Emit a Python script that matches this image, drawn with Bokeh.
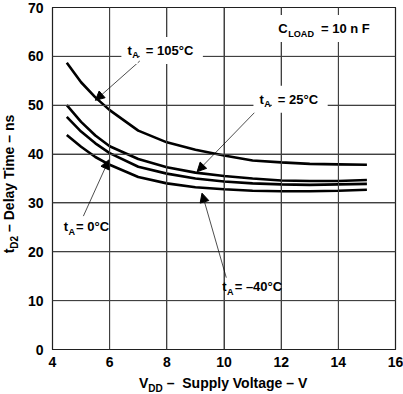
from bokeh.plotting import figure
from bokeh.models import Range1d, FixedTicker, Label, Arrow, NormalHead, Div
from bokeh.layouts import row, column
from bokeh.embed import file_html
from bokeh.resources import INLINE

# Supply voltage (V)
vdd = [4.5, 5, 5.5, 6, 7, 8, 9, 10, 11, 12, 13, 14, 15]
# Delay time (ns) per ambient temperature
t_105 = [58.7, 54.7, 51.6, 49.0, 44.8, 42.4, 40.9, 39.7, 38.7, 38.3, 38.0, 37.9, 37.8]
t_25 = [50.0, 46.6, 43.8, 41.6, 39.0, 37.3, 36.2, 35.5, 35.0, 34.6, 34.5, 34.5, 34.7]
t_0 = [47.6, 44.6, 42.2, 40.2, 37.4, 36.0, 35.0, 34.4, 34.0, 33.8, 33.7, 33.8, 33.9]
t_m40 = [43.9, 41.5, 39.4, 37.8, 35.3, 34.0, 33.2, 32.8, 32.5, 32.4, 32.4, 32.5, 32.7]

x_ticks = [4, 6, 8, 10, 12, 14, 16]
y_ticks = [0, 10, 20, 30, 40, 50, 60, 70]

# annotation texts: (prefix, subscript, rest, label x, label y, arrow start, arrow tip, white box)
annotations = [
    ("t", "A", " = 105°C", 6.62, 61.2, (7.14, 59.5), (5.50, 51.0), True),
    ("t", "A", " = 25°C", 11.24, 51.2, (11.30, 49.9), (9.06, 36.4), True),
    ("t", "A", " = 0°C", 4.39, 25.1, (5.08, 27.3), (5.97, 38.8), False),
    ("t", "A", " = –40°C", 9.94, 12.8, (10.08, 14.7), (9.23, 32.0), False),
    ("C", "LOAD", " = 10 n F", 11.9, 65.7, None, None, True),
]

FONT = "Liberation Sans"
FS = 13
GRID = "#404040"
PAD = 6

p = figure(width=379, height=373, output_backend="svg", toolbar_location=None,
           x_range=Range1d(4, 16), y_range=Range1d(0, 70),
           frame_width=343, frame_height=342,
           min_border_left=28, min_border_right=8, min_border_top=7, min_border_bottom=24)
p.background_fill_color = "white"
p.border_fill_color = "white"
p.outline_line_color = "black"
p.outline_line_width = 1.2

for ax in (p.xaxis[0], p.yaxis[0]):
    ax.axis_line_color = None
    ax.major_tick_line_color = None
    ax.minor_tick_line_color = None
    ax.major_tick_out = 0
    ax.major_tick_in = 0
    ax.minor_tick_out = 0
    ax.minor_tick_in = 0
    ax.major_label_text_font = FONT
    ax.major_label_text_font_style = "bold"
    ax.major_label_text_font_size = "14px"
    ax.major_label_text_color = "black"
p.xaxis[0].ticker = FixedTicker(ticks=x_ticks)
p.yaxis[0].ticker = FixedTicker(ticks=y_ticks)
p.xaxis[0].major_label_standoff = 7
p.yaxis[0].major_label_standoff = 9
for g in (p.xgrid[0], p.ygrid[0]):
    g.grid_line_color = GRID
    g.grid_line_alpha = 1.0
    g.grid_line_width = 1
    g.level = "glyph"

# grid lines drawn from the tick lists as well (through the data scales)
p.segment(x0=x_ticks, y0=[y_ticks[0]] * len(x_ticks), x1=x_ticks, y1=[y_ticks[-1]] * len(x_ticks),
          line_color=GRID, line_width=1)
p.segment(x0=[x_ticks[0]] * len(y_ticks), y0=y_ticks, x1=[x_ticks[-1]] * len(y_ticks), y1=y_ticks,
          line_color=GRID, line_width=1)

for ys in (t_105, t_25, t_0, t_m40):
    p.line(vdd, ys, line_color="black", line_width=2.6)

widths = {"t": 0.333, "C": 0.722, "A": 0.722, "L": 0.611, "O": 0.778, "D": 0.722}


def add_sub_text(x, y, prefix, sub, rest, box, fs=FS):
    common = dict(x_units="data", y_units="data", text_font=FONT,
                  text_font_style="bold", text_color="black")
    w_pre = widths[prefix] * fs
    sub_fs = fs * 0.7
    w_sub = sum(widths[c] for c in sub) * sub_fs
    shift = PAD if box else 0
    main = Label(x=x, y=y, text=rest, text_font_size=f"{fs}px", text_baseline="middle",
                 x_offset=w_pre + w_sub + 1.5, **common)
    pre = Label(x=x, y=y, text=prefix, text_font_size=f"{fs}px",
                text_baseline="middle", x_offset=-shift, **common)
    if box:
        main.background_fill_color = "white"
        main.padding = PAD
        pre.background_fill_color = "white"
        pre.padding = PAD
    p.add_layout(main)
    p.add_layout(pre)
    p.add_layout(Label(x=x, y=y, text=sub, text_font_size=f"{sub_fs:.1f}px",
                       text_baseline="top", x_offset=w_pre + 0.5, **common))


for prefix, sub, rest, lx, ly, a0, a1, box in annotations:
    if a0 is not None:
        p.add_layout(Arrow(end=NormalHead(size=9, fill_color="black", line_color="black", line_width=1),
                           x_start=a0[0], y_start=a0[1], x_end=a1[0], y_end=a1[1],
                           line_color="black", line_width=0.7))
    add_sub_text(lx, ly, prefix, sub, rest, box)

TITLE_FONT = "font-family:'Liberation Sans',Arial,sans-serif;font-weight:bold;font-size:14px;color:black;white-space:pre;line-height:16px;"

ydiv = Div(width=24, height=394, margin=0, text=(
    '<div style="position:relative;width:24px;height:394px;">'
    '<div style="position:absolute;left:12px;top:184px;transform:translate(-50%,-50%) rotate(-90deg);'
    + TITLE_FONT + '">t<sub style="font-size:10px;">D2</sub> – Delay Time – ns</div></div>'))

xdiv = Div(width=379, height=21, margin=0, text=(
    '<div style="position:relative;width:379px;height:21px;">'
    '<div style="position:absolute;left:115px;top:2px;' + TITLE_FONT
    + '">V<sub style="font-size:10px;">DD</sub> –  Supply Voltage – V</div></div>'))

layout = row(ydiv, column(p, xdiv, spacing=0), spacing=0)

open("out.html", "w").write(file_html(layout, INLINE))
